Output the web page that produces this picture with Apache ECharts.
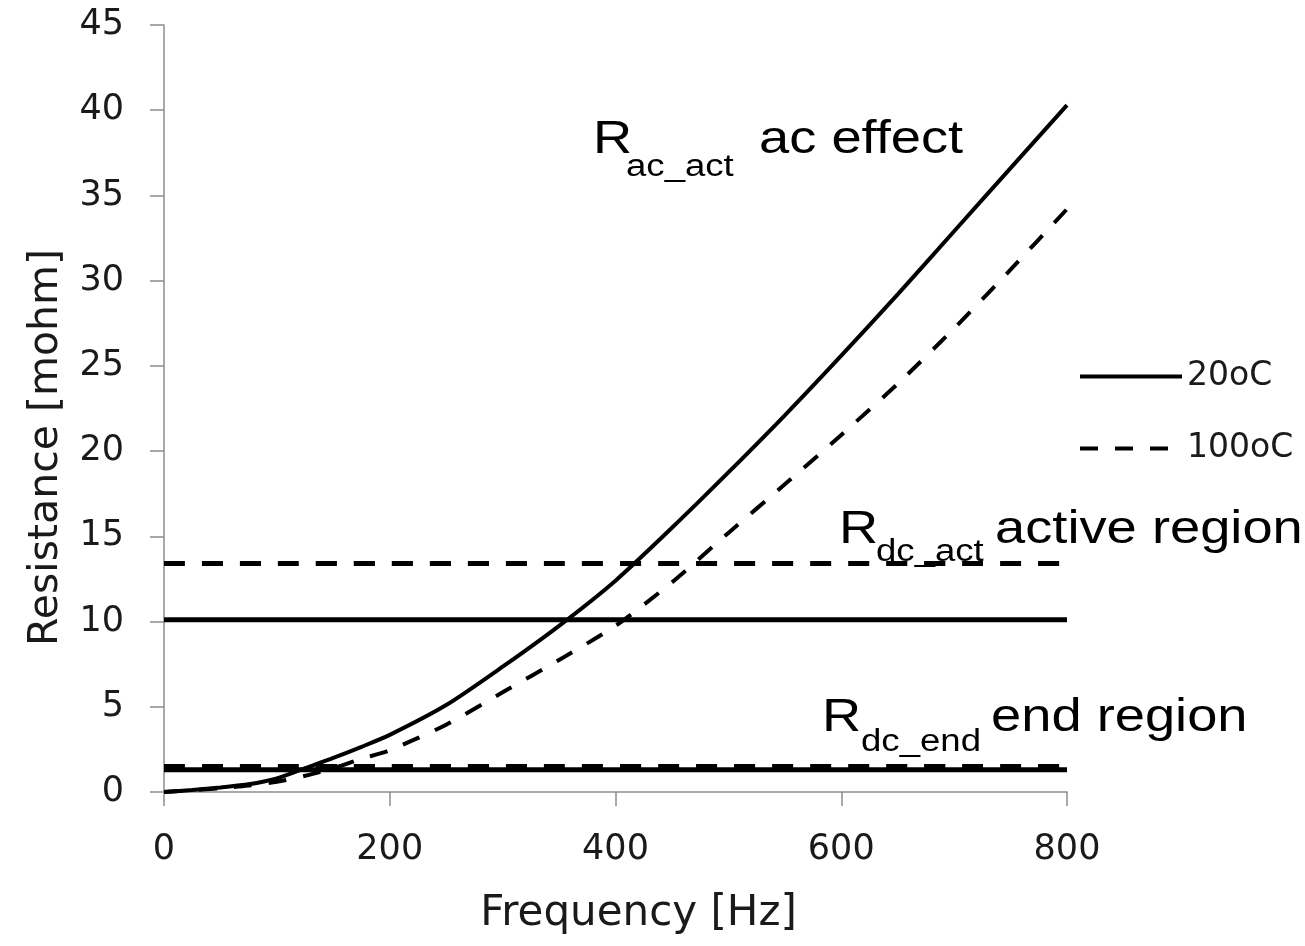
<!DOCTYPE html>
<html>
<head>
<meta charset="utf-8">
<title>Resistance vs frequency</title>
<script src="https://cdn.jsdelivr.net/npm/echarts/dist/echarts.min.js"></script>
<style>
  html, body { margin: 0; padding: 0; background: #fff; }
  #chart { width: 1305px; height: 946px; }
</style>
</head>
<body>
<div id="chart"></div>
<script>
// frequency points [Hz]
const freqs = [0, 25, 50, 75, 100, 125, 150, 175, 200, 250, 300, 350, 400, 450, 500, 550, 600, 650, 700, 750, 800]
// ac resistance [mohm]
const rAc20 = [0, 0.12, 0.27, 0.45, 0.8, 1.4, 2.0, 2.65, 3.35, 5.1, 7.35, 9.75, 12.4, 15.5, 18.75, 22.1, 25.6, 29.2, 32.9, 36.6, 40.3]
const rAc100 = [0, 0.1, 0.22, 0.38, 0.6, 0.95, 1.4, 1.95, 2.45, 3.95, 5.85, 7.75, 9.75, 12.3, 15.2, 18.05, 20.95, 23.95, 27.2, 30.65, 34.2]
// dc resistance, flat over the whole range
const dcRange = [0, 800]
const rDcAct20 = 10.1
const rDcAct100 = 13.4
const rDcEnd20 = 1.3
const rDcEnd100 = 1.5
// axis ticks
const xTicks = { min: 0, max: 800, step: 200 }
const yTicks = { min: 0, max: 45, step: 5 }
const legendNames = ['20oC', '100oC']

const pairs = (xs, ys) => xs.map((x, i) => [x, ys[i]])
const flat = (v) => dcRange.map((x) => [x, v])

const chart = echarts.init(document.getElementById('chart'))

const tickFont = 'DejaVu Sans'
const noteFont = 'Liberation Sans'
const dashCurve = [18, 17]
const dashFlat = [21, 17]

// annotations: big "R", subscript, then the description
const notes = [
  { sub: 'ac_act', tail: 'ac effect', x: 593, subX: 626, tailX: 759, base: 156, subBase: 178 },
  { sub: 'dc_act', tail: 'active region', x: 839, subX: 876, tailX: 995, base: 546, subBase: 563 },
  { sub: 'dc_end', tail: 'end region', x: 822, subX: 861, tailX: 991, base: 734, subBase: 753 },
]
const bigSize = 46
const subSize = 31
const graphics = []
notes.forEach((n) => {
  const txt = (text, x, base, size) => ({
    type: 'text',
    x: x,
    y: base - 0.3465 * size,
    scaleX: 1.18,
    style: {
      text: text,
      fontFamily: noteFont,
      fontSize: size,
      fill: '#000',
      align: 'left',
      verticalAlign: 'middle',
    },
  })
  graphics.push(txt('R', n.x, n.base, bigSize))
  graphics.push(txt(n.sub, n.subX, n.subBase, subSize))
  graphics.push(txt(n.tail, n.tailX, n.base, bigSize))
})

const lineSeries = (name, data, width, dash) => ({
  name: name,
  type: 'line',
  data: data,
  symbol: 'none',
  smooth: 0.25,
  silent: true,
  animation: false,
  itemStyle: { color: '#000' },
  lineStyle: { color: '#000', width: width, type: dash || 'solid', cap: 'butt' },
})

const option = {
  animation: false,
  grid: {
    left: 164,
    right: 238,
    top: 25,
    bottom: 154,
    outerBoundsMode: 'none',
  },
  legend: {
    data: legendNames,
    orient: 'vertical',
    left: 1073,
    top: 355,
    itemWidth: 102,
    itemHeight: 32,
    itemGap: 39,
    textStyle: { fontFamily: tickFont, fontSize: 33, color: '#1a1a1a' },
    itemStyle: { opacity: 0 },
    lineStyle: { width: 4 },
  },
  xAxis: {
    type: 'value',
    min: xTicks.min,
    max: xTicks.max,
    interval: xTicks.step,
    name: 'Frequency [Hz]',
    nameLocation: 'middle',
    nameGap: 101,
    nameTextStyle: { fontFamily: tickFont, fontSize: 42, color: '#1a1a1a', padding: [0, 0, 0, 46] },
    axisLine: { show: true, lineStyle: { color: '#8c8c8c', width: 1.5 } },
    axisTick: { show: true, length: 14, lineStyle: { color: '#8c8c8c', width: 1.5 } },
    axisLabel: { margin: 40, fontFamily: tickFont, fontSize: 35, color: '#1a1a1a' },
    splitLine: { show: false },
  },
  yAxis: {
    type: 'value',
    min: yTicks.min,
    max: yTicks.max,
    interval: yTicks.step,
    name: 'Resistance [mohm]',
    nameLocation: 'middle',
    nameGap: 97,
    nameTextStyle: { fontFamily: tickFont, fontSize: 41, color: '#1a1a1a', padding: [0, 78, 0, 0] },
    axisLine: { show: true, lineStyle: { color: '#8c8c8c', width: 1.5 } },
    axisTick: { show: true, length: 14, lineStyle: { color: '#8c8c8c', width: 1.5 } },
    axisLabel: { margin: 40, fontFamily: tickFont, fontSize: 35, color: '#1a1a1a' },
    splitLine: { show: false },
  },
  series: [
    lineSeries('20oC', pairs(freqs, rAc20), 4),
    lineSeries('100oC', pairs(freqs, rAc100), 4, dashCurve),
    lineSeries('20oC', flat(rDcAct20), 5),
    lineSeries('100oC', flat(rDcAct100), 5, dashFlat),
    lineSeries('20oC', flat(rDcEnd20), 5),
    lineSeries('100oC', flat(rDcEnd100), 5, dashFlat),
  ],
  graphic: graphics,
}

chart.setOption(option)
</script>
</body>
</html>
